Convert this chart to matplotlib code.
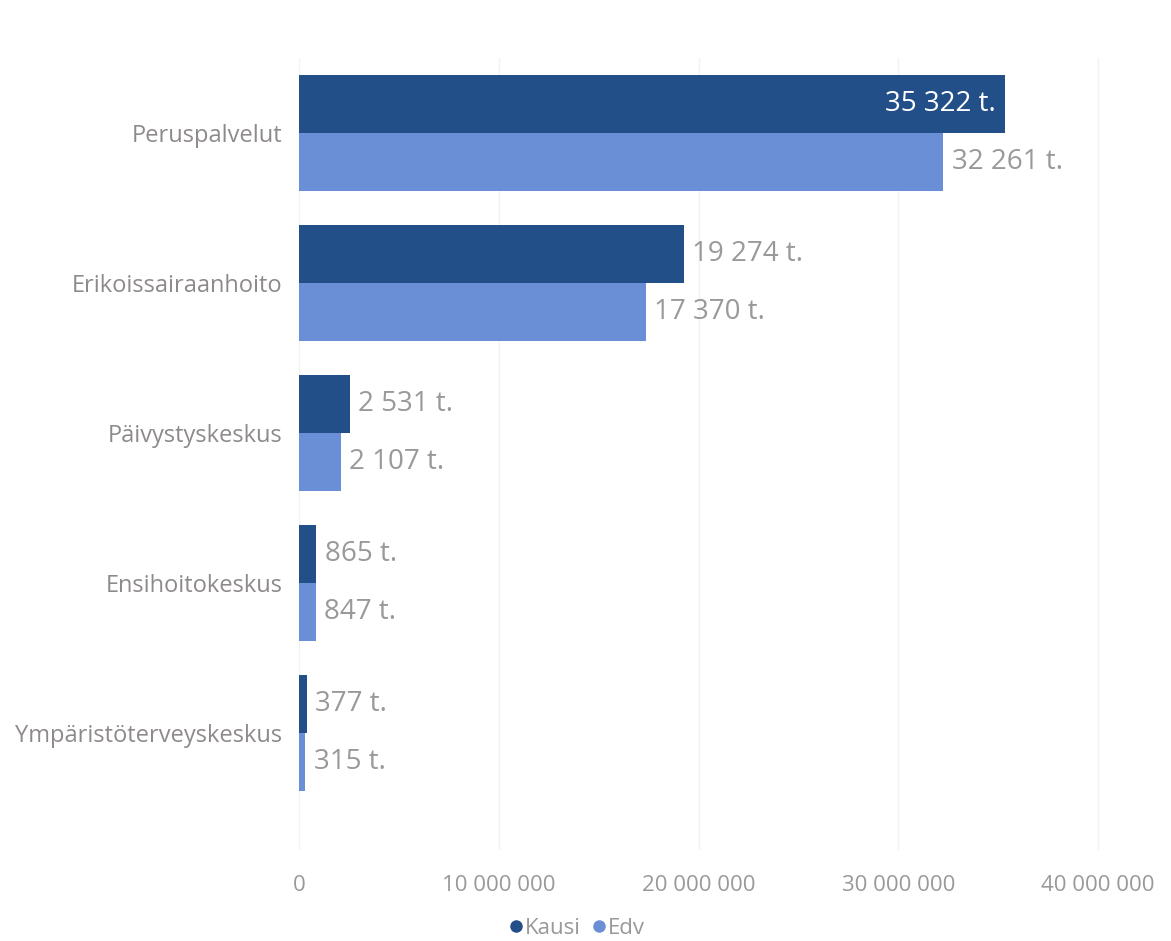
import matplotlib
matplotlib.use("Agg")
import matplotlib.pyplot as plt
import numpy as np
from matplotlib.lines import Line2D

categories = ["Peruspalvelut", "Erikoissairaanhoito", "Päivystyskeskus", "Ensihoitokeskus", "Ympäristöterveyskeskus"]
kausi = [35322000, 19274000, 2531000, 865000, 377000]
edv = [32261000, 17370000, 2107000, 847000, 315000]
series_names = ["Kausi", "Edv"]
xticks = [0, 10000000, 20000000, 30000000, 40000000]
xticklabels = ["0", "10 000 000", "20 000 000", "30 000 000", "40 000 000"]

dark = "#234f89"
light = "#6a8fd6"
gray = "#9b9898"
fam = ["Open Sans", "DejaVu Sans"]

fig = plt.figure(figsize=(11.71, 9.41), dpi=100)
ax = fig.add_axes([299/1171, 1-850/941, (1108-299)/1171, (850-58)/941])

y = np.arange(len(categories))
h = 0.385
ax.barh(y - h/2, kausi, height=h, color=dark, zorder=3)
ax.barh(y + h/2, edv, height=h, color=light, zorder=3)

def fmt(v):
    return "{:,}".format(int(round(v/1000))).replace(",", " ") + " t."

for i, (k, e) in enumerate(zip(kausi, edv)):
    for val, yy in ((k, i - h/2), (e, i + h/2)):
        if val > 34000000:
            ax.annotate(fmt(val), (val, yy), xytext=(-6, 0), textcoords="offset points",
                        ha="right", va="center", color="white", fontsize=20, family=fam, zorder=4)
        else:
            ax.annotate(fmt(val), (val, yy), xytext=(6, 0), textcoords="offset points",
                        ha="left", va="center", color=gray, fontsize=20, family=fam, zorder=4)

ax.set_xlim(0, 40500000)
ax.set_ylim(4.5 + 42/150, -0.5)
ax.set_yticks(y)
ax.set_yticklabels(categories, family=fam, fontsize=17, color="#8f8a8a")
ax.set_xticks(xticks)
ax.set_xticklabels(xticklabels, family=fam, fontsize=16, color=gray)
ax.tick_params(axis="both", length=0)
ax.tick_params(axis="x", pad=18)
ax.tick_params(axis="y", pad=12)
ax.grid(axis="x", color="#f2f2f2", linewidth=1, zorder=0)
for s in ax.spines.values():
    s.set_visible(False)

handles = [Line2D([], [], marker="o", linestyle="", color=dark, markersize=8),
           Line2D([], [], marker="o", linestyle="", color=light, markersize=8)]
leg = fig.legend(handles, series_names, loc="center", bbox_to_anchor=(576/1171, 1-928/941),
                 ncol=2, frameon=False, prop={"family": fam, "size": 16},
                 handletextpad=0.0, columnspacing=0.4, handlelength=0.8)
for t in leg.get_texts():
    t.set_color(gray)

fig.savefig("out.png", dpi=100, facecolor="white")
